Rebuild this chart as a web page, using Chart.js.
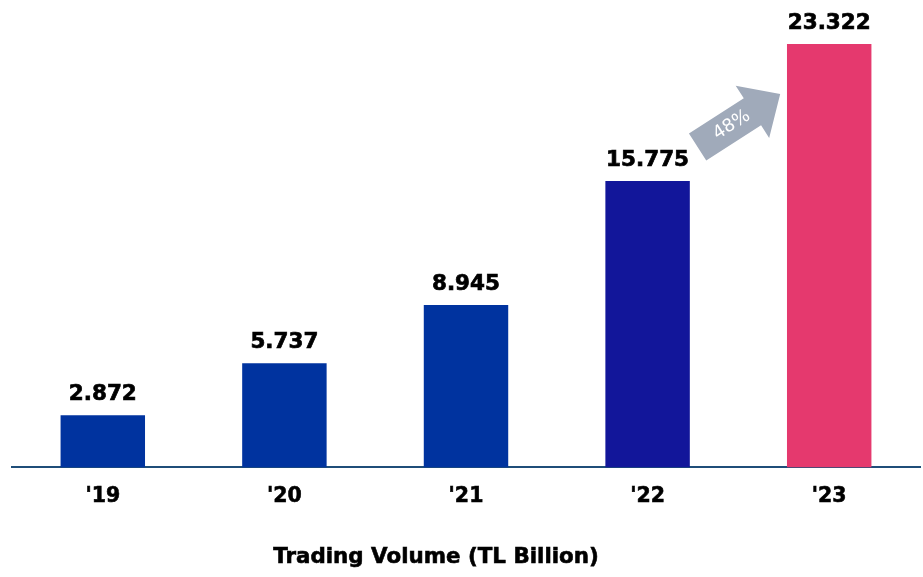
<!DOCTYPE html>
<html><head><meta charset="utf-8">
<script src="https://cdn.jsdelivr.net/npm/chart.js@4"></script>
<style>html,body{margin:0;padding:0;background:#fff}#wrap{width:923px;height:577px;position:relative}</style>
</head><body><div id="wrap"><canvas id="c"></canvas></div>
<script>
const categories = ["'19", "'20", "'21", "'22", "'23"];
const volumes = [2.872, 5.737, 8.945, 15.775, 23.322];
const valueLabels = ["2.872", "5.737", "8.945", "15.775", "23.322"];
const barColors = ["#00339F", "#00339F", "#00339F", "#12169A", "#E5396E"];
const growthLabel = "48%";
const axisTitle = "Trading Volume (TL Billion)";

const FONT = "'DejaVu Sans', Verdana, sans-serif";

const overlay = {
  id: 'overlay',
  afterDatasetsDraw(chart) {
    const ctx = chart.ctx;
    const meta = chart.getDatasetMeta(0);
    ctx.save();
    ctx.fillStyle = '#000';
    ctx.strokeStyle = '#000';
    ctx.lineWidth = 0.7;
    ctx.font = 'bold 21.5px ' + FONT;
    ctx.textAlign = 'center';
    ctx.textBaseline = 'alphabetic';
    meta.data.forEach((bar, i) => {
      ctx.fillText(valueLabels[i], bar.x, bar.y - 15);
      ctx.strokeText(valueLabels[i], bar.x, bar.y - 15);
    });
    // growth arrow between '22 and '23
    const b3 = meta.data[3], b4 = meta.data[4];
    const tx = b3.x + 50, ty = b3.y - 34;
    const hx = b4.x - 49, hy = b4.y + 50;
    const ang = Math.atan2(hy - ty, hx - tx);
    const len = Math.hypot(hx - tx, hy - ty);
    ctx.translate(tx, ty);
    ctx.rotate(ang);
    const sw = 16, hw = 31, hl = 33;
    ctx.beginPath();
    ctx.moveTo(0, -sw);
    ctx.lineTo(len - hl, -sw);
    ctx.lineTo(len - hl, -hw);
    ctx.lineTo(len, 0);
    ctx.lineTo(len - hl, hw);
    ctx.lineTo(len - hl, sw);
    ctx.lineTo(0, sw);
    ctx.closePath();
    ctx.fillStyle = '#A0AABA';
    ctx.fill();
    ctx.fillStyle = '#fff';
    ctx.font = '18px ' + FONT;
    ctx.textAlign = 'center';
    ctx.textBaseline = 'middle';
    ctx.fillText(growthLabel, (len - hl) / 2 + 8, 0);
    ctx.restore();
    // axis title
    ctx.save();
    ctx.fillStyle = '#000';
    ctx.strokeStyle = '#000';
    ctx.lineWidth = 0.6;
    ctx.font = 'bold 21.4px ' + FONT;
    ctx.textAlign = 'center';
    ctx.textBaseline = 'middle';
    ctx.fillText(axisTitle, 436, 557);
    ctx.strokeText(axisTitle, 436, 557);
    ctx.restore();
  }
};

new Chart(document.getElementById('c'), {
  type: 'bar',
  data: {
    labels: categories,
    datasets: [{
      data: volumes,
      backgroundColor: barColors,
      borderWidth: 0,
      barPercentage: 0.93,
      categoryPercentage: 0.5
    }]
  },
  options: {
    responsive: true,
    maintainAspectRatio: false,
    animation: false,
    events: [],
    layout: { padding: { top: 13.5, left: 12, right: 3, bottom: 51 } },
    plugins: { legend: { display: false }, tooltip: { enabled: false } },
    scales: {
      x: {
        grid: { display: false, drawTicks: false },
        border: { display: true, color: '#1F4E79', width: 2 },
        ticks: { color: '#000', textStrokeColor: '#000', textStrokeWidth: 0.6, font: { family: FONT, size: 20.5, weight: 'bold' }, padding: 17 }
      },
      y: {
        display: false,
        min: 0,
        max: 25
      }
    }
  },
  plugins: [overlay]
});
</script>
</body></html>
